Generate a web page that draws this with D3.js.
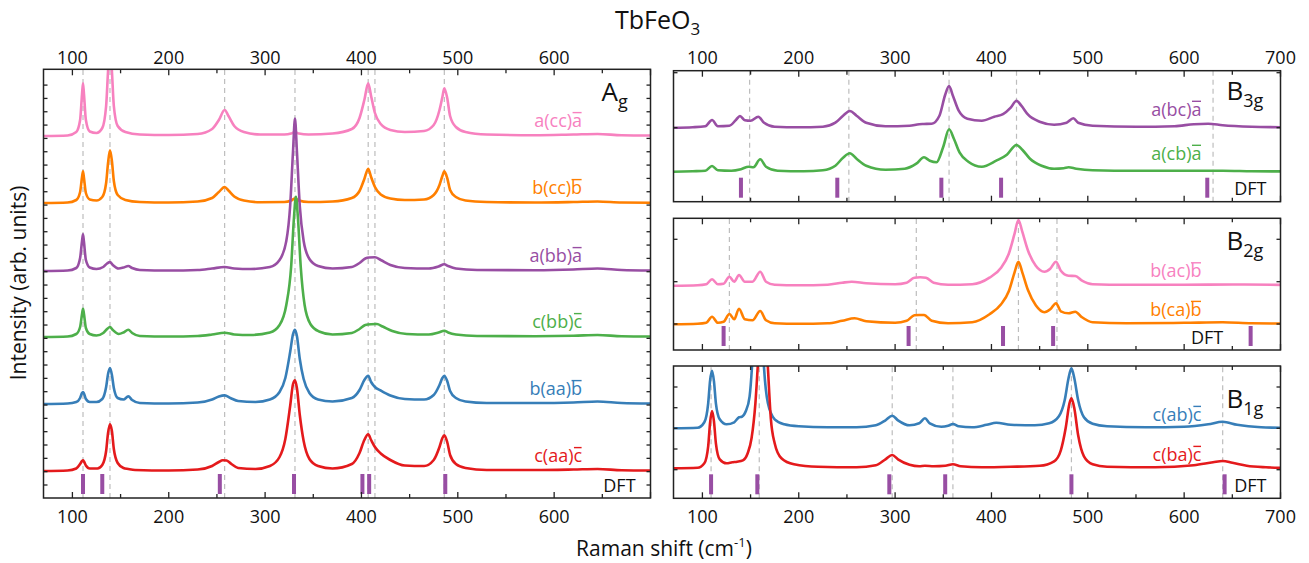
<!DOCTYPE html>
<html>
<head>
<meta charset="utf-8">
<script src="https://cdn.jsdelivr.net/npm/d3@7"></script>
<style>
body { margin: 0; background: #fff; }
svg { font-family: "Open Sans", "Noto Sans", sans-serif; }
</style>
</head>
<body>
<svg id="chart" width="1309" height="563"></svg>
<script>
// Raman spectra: [shift cm-1, intensity], intensity in 0.1 px units above the curve's own baseline
var agLabels = ['a(cc)a', 'b(cc)b', 'a(bb)a', 'c(bb)c', 'b(aa)b', 'c(aa)c']; // last letter carries an overbar
var agOffsets = [3620, 2950, 2270, 1610, 940, 270];
var agCC_a = [[70,0],[95,5],[104,40],[108,160],[110,420],[111,527],[112,420],[114,160],[118,45],[125,30],[131,80],[135,300],[137,650],[139,950],[141,650],[143,300],[147,100],[155,40],[170,15],[200,10],[230,20],[245,70],[252,160],[258,260],[262,200],[268,100],[278,40],[295,15],[320,15],[327,25],[331,40],[335,25],[345,15],[370,25],[390,70],[398,180],[403,360],[407,527],[410,400],[414,230],[420,120],[430,60],[445,40],[465,50],[475,110],[481,260],[484,390],[486,477],[489,380],[492,200],[498,90],[508,40],[530,15],[580,8],[620,15],[645,20],[670,8],[700,5]];
var agCC_b = [[70,0],[95,5],[104,30],[108,110],[110,260],[111,316],[112,250],[114,100],[118,35],[125,25],[131,60],[135,200],[137,400],[139,526],[141,420],[143,220],[147,80],[155,30],[170,10],[200,5],[230,15],[245,50],[252,110],[258,160],[262,125],[268,65],[278,25],[295,8],[320,10],[327,25],[331,45],[335,25],[345,10],[370,15],[390,50],[398,120],[403,240],[407,343],[410,260],[414,160],[420,85],[430,45],[445,30],[465,35],[475,80],[481,180],[484,270],[486,316],[489,250],[492,130],[498,60],[508,25],[530,10],[580,5],[620,10],[645,15],[670,5],[700,3]];
var agBB_a = [[70,0],[95,5],[104,30],[108,130],[110,300],[111,367],[112,290],[114,110],[118,35],[125,20],[132,40],[136,75],[139,90],[142,60],[148,25],[153,35],[158,50],[162,30],[170,10],[200,5],[230,10],[245,25],[258,40],[268,25],[285,20],[305,40],[315,110],[322,300],[326,650],[329,1200],[331,1524],[333,1200],[336,650],[340,300],[346,120],[355,50],[370,25],[390,40],[398,80],[404,125],[408,135],[414,137],[420,110],[430,60],[445,30],[470,25],[480,45],[486,67],[490,50],[498,25],[520,10],[580,8],[620,15],[645,25],[670,10],[700,5]];
var agBB_c = [[70,0],[95,5],[104,30],[108,100],[110,230],[111,283],[112,230],[114,90],[118,30],[125,15],[132,40],[136,80],[139,100],[142,70],[148,30],[153,45],[158,73],[162,40],[170,10],[200,5],[230,10],[245,25],[258,43],[268,25],[285,20],[305,45],[315,120],[322,320],[327,700],[330,1200],[332,1403],[334,1200],[337,700],[341,320],[347,130],[356,55],[370,25],[390,40],[398,80],[404,120],[410,128],[416,130],[422,105],[432,60],[447,30],[470,25],[480,45],[486,63],[490,45],[498,25],[520,10],[580,8],[620,12],[645,20],[670,8],[700,5]];
var agAA_b = [[70,0],[95,5],[104,20],[108,60],[110,110],[111,120],[112,105],[114,50],[118,20],[125,20],[131,50],[135,170],[137,300],[139,360],[141,290],[143,160],[147,60],[153,45],[158,76],[162,40],[170,10],[200,5],[230,15],[245,45],[252,75],[258,86],[264,60],[272,30],[290,20],[305,45],[315,120],[321,260],[326,520],[329,700],[331,743],[333,680],[336,450],[340,250],[346,110],[355,45],[370,25],[390,60],[398,140],[403,240],[407,283],[410,220],[414,170],[420,135],[430,85],[445,50],[465,45],[475,90],[481,190],[484,260],[486,283],[489,230],[492,130],[498,60],[508,25],[530,10],[580,10],[620,15],[645,25],[670,10],[700,5]];
var agAA_c = [[70,0],[95,5],[104,25],[108,70],[110,100],[111,107],[112,95],[114,55],[118,25],[126,25],[131,60],[135,200],[137,380],[139,467],[141,400],[143,220],[147,80],[153,30],[158,20],[165,10],[200,5],[230,15],[245,50],[252,90],[256,107],[260,105],[265,70],[272,30],[290,20],[305,50],[315,140],[321,320],[326,650],[329,870],[331,907],[333,830],[336,560],[340,300],[346,120],[355,50],[370,25],[390,70],[398,180],[403,310],[407,367],[410,310],[414,240],[420,175],[430,110],[445,55],[465,50],[475,110],[481,240],[484,330],[486,357],[489,290],[492,160],[498,70],[508,30],[530,10],[580,10],[620,15],[645,20],[670,8],[700,5]];
var agModes = [111, 139, 258, 331, 407, 414, 486];
var agDft = [111, 131, 253, 330, 401, 408, 487];

var b3gLabels = ['a(bc)a', 'a(cb)a'];
var b3gOffsets = [740, 300];
var b3gBC = [[70,0],[90,5],[103,15],[110,77],[116,15],[128,20],[135,80],[139,117],[144,75],[150,70],[158,110],[164,50],[175,10],[200,5],[225,10],[238,50],[246,120],[253,167],[260,120],[270,50],[290,15],[315,20],[325,35],[330,37],[338,40],[346,120],[352,330],[356,417],[360,320],[366,170],[375,90],[390,70],[403,110],[412,135],[420,200],[426,270],[431,220],[438,130],[450,60],[465,30],[478,50],[485,94],[490,50],[505,20],[550,10],[590,15],[610,35],[625,40],[640,25],[670,10],[700,5]];
var b3gCB = [[70,0],[90,5],[103,10],[110,57],[116,15],[130,10],[140,25],[148,50],[153,45],[160,124],[166,50],[178,10],[205,5],[225,15],[238,60],[246,140],[253,184],[260,130],[270,60],[290,20],[310,30],[322,80],[330,144],[336,110],[343,95],[350,250],[356,424],[361,330],[367,190],[376,100],[390,50],[405,110],[416,170],[426,267],[432,220],[440,130],[452,60],[465,30],[475,35],[480,44],[488,30],[505,15],[550,10],[600,10],[640,10],[670,5],[700,3]];
var b3gModes = [149, 252, 356, 426, 630];
var b3gDft = [140, 240, 348, 410, 624];

var b2gLabels = ['b(ac)b', 'b(ca)b'];
var b2gOffsets = [643, 257];
var b2gAC = [[70,0],[95,5],[104,15],[110,64],[116,15],[122,20],[128,90],[133,40],[138,107],[144,40],[152,40],[160,140],[166,40],[175,10],[200,5],[230,10],[245,30],[255,40],[270,25],[300,15],[312,30],[320,80],[326,84],[332,80],[340,30],[355,10],[380,15],[398,80],[410,180],[418,320],[424,520],[428,657],[432,540],[438,350],[446,200],[455,140],[461,170],[467,240],[472,150],[480,100],[487,97],[494,50],[505,15],[540,10],[600,10],[650,12],[700,8]];
var b2gCA = [[70,0],[95,5],[104,15],[110,76],[116,15],[122,25],[128,103],[133,50],[138,156],[144,50],[152,40],[160,133],[166,40],[175,10],[200,5],[230,10],[245,35],[258,60],[270,30],[300,15],[312,35],[320,90],[325,93],[330,93],[338,35],[355,10],[380,20],[398,100],[410,200],[418,330],[424,520],[428,626],[432,520],[438,340],[446,190],[455,120],[461,150],[467,210],[472,130],[480,110],[487,126],[494,70],[505,20],[540,10],[600,15],[640,20],[670,10],[700,8]];
var b2gModes = [128, 322, 428, 468];
var b2gDft = [122, 314, 412, 464, 669];

var b1gLabels = ['c(ab)c', 'c(ba)c'];
var b1gOffsets = [700, 300];
var b1gAB = [[70,0],[95,5],[102,60],[106,250],[108,480],[110,576],[112,470],[114,250],[118,90],[125,40],[133,60],[138,110],[141,116],[145,170],[149,320],[152,700],[155,1300],[158,1500],[161,1200],[164,600],[168,250],[175,90],[185,40],[200,20],[230,10],[260,10],[280,30],[290,80],[297,126],[303,80],[315,30],[325,50],[331,100],[336,50],[348,15],[355,25],[360,43],[366,20],[380,10],[395,35],[405,56],[420,35],[445,30],[460,50],[470,120],[476,280],[480,500],[483,600],[486,500],[490,280],[496,110],[505,45],[520,20],[560,10],[600,15],[625,40],[640,66],[655,35],[680,10],[700,5]];
var b1gBA = [[70,0],[95,5],[102,50],[106,220],[108,460],[110,573],[112,470],[114,250],[118,90],[125,50],[131,60],[136,66],[142,80],[147,150],[151,300],[155,650],[158,1100],[161,1500],[163,1650],[165,1500],[168,1000],[171,500],[175,250],[182,100],[195,40],[220,15],[260,10],[280,30],[290,90],[297,133],[303,90],[315,35],[325,20],[331,26],[340,20],[352,25],[360,40],[368,20],[390,10],[420,15],[450,25],[465,70],[472,180],[477,400],[481,650],[483,700],[486,600],[490,330],[496,120],[505,40],[520,15],[570,10],[610,30],[630,60],[640,73],[650,55],[665,25],[685,10],[700,5]];
var b1gModes = [109, 159, 297, 360, 483, 640];
var b1gDft = [109, 157, 294, 352, 483, 642];

var xMajor = [100, 200, 300, 400, 500, 600, 700];
var xMinor = [150, 250, 350, 450, 550, 650];

var pink = '#f781bf', orange = '#ff7f00', purple = '#984ea3',
    green = '#4daf4a', blue = '#377eb8', red = '#e41a1c';

var panels = [
    { id: 'ag', box: [43.5, 650.5, 69.3, 498], ymax: 4287, title: ['A', 'g'], titleDrop: 32,
      labels: agLabels, offsets: agOffsets, series: [agCC_a, agCC_b, agBB_a, agBB_c, agAA_b, agAA_c],
      colors: [pink, orange, purple, green, blue, red], modes: agModes, dft: agDft,
      yTicks: d3.range(130, 4200, 133.3), tickLabels: [100, 200, 300, 400, 500, 600],
      topLabels: true, bottomLabels: true,
      labelX: 629, labelLift: 9, dftX: 651 },
    { id: 'b3g', box: [673.5, 1280.5, 70.7, 201.7], ymax: 1310, title: ['B', '3g'], titleDrop: 29,
      labels: b3gLabels, offsets: b3gOffsets, series: [b3gBC, b3gCB],
      colors: [purple, green], modes: b3gModes, dft: b3gDft,
      yTicks: [740, 1290], tickLabels: xMajor, topLabels: true,
      labelX: 618, labelLift: 12, dftX: 652 },
    { id: 'b2g', box: [673.5, 1280.5, 218.3, 350], ymax: 1317, title: ['B', '2g'], titleDrop: 32,
      labels: b2gLabels, offsets: b2gOffsets, series: [b2gAC, b2gCA],
      colors: [pink, orange], modes: b2gModes, dft: b2gDft,
      yTicks: [260, 683, 1107], tickLabels: [],
      labelX: 618, labelLift: 8.5, dftX: 607 },
    { id: 'b1g', box: [673.5, 1280.5, 366, 498.3], ymax: 1323, title: ['B', '1g'], titleDrop: 42,
      labels: b1gLabels, offsets: b1gOffsets, series: [b1gAB, b1gBA],
      colors: [blue, red], modes: b1gModes, dft: b1gDft,
      yTicks: [286, 493, 700, 906, 1113], tickLabels: xMajor, bottomLabels: true,
      labelX: 618, labelLift: 7.5, dftX: 652 }
];

var svg = d3.select('#chart');

panels.forEach(drawPanel);

function drawPanel(p) {
    var x = d3.scaleLinear().domain([70, 700]).range([p.box[0], p.box[1]]);
    var y = d3.scaleLinear().domain([0, p.ymax]).range([p.box[3], p.box[2]]);
    var g = svg.append('g');

    g.append('clipPath').attr('id', 'clip-' + p.id)
        .append('rect')
        .attr('x', p.box[0]).attr('y', p.box[2])
        .attr('width', p.box[1] - p.box[0]).attr('height', p.box[3] - p.box[2]);

    g.selectAll('.mode')
        .data(p.modes)
        .enter().append('line')
        .attr('x1', function(d) { return x(d); })
        .attr('x2', function(d) { return x(d); })
        .attr('y1', y(0)).attr('y2', y(p.ymax))
        .attr('stroke', '#bdbdbd').attr('stroke-width', 1.2)
        .attr('stroke-dasharray', '5,4');

    var curves = g.append('g').attr('clip-path', 'url(#clip-' + p.id + ')');
    p.series.forEach(function(s, i) {
        var line = d3.line()
            .x(function(d) { return x(d[0]); })
            .y(function(d) { return y(d[1] + p.offsets[i]); })
            .curve(d3.curveMonotoneX);
        curves.append('path')
            .datum(s)
            .attr('d', line)
            .attr('fill', 'none')
            .attr('stroke', p.colors[i])
            .attr('stroke-width', 2.6)
            .attr('stroke-linejoin', 'round');
    });

    g.selectAll('.dft')
        .data(p.dft)
        .enter().append('rect')
        .attr('x', function(d) { return x(d) - 2; })
        .attr('y', y(240))
        .attr('width', 4)
        .attr('height', y(40) - y(240))
        .attr('fill', purple);

    g.append('text')
        .attr('x', x(p.dftX)).attr('y', y(65))
        .attr('font-size', 18).attr('fill', '#111')
        .text('DFT');

    // series labels with the overbar on the last letter
    p.labels.forEach(function(lab, i) {
        var t = g.append('text')
            .attr('x', x(p.labelX))
            .attr('y', y(p.offsets[i]) - p.labelLift)
            .attr('text-anchor', 'end')
            .attr('font-size', 18)
            .attr('fill', p.colors[i])
            .text(lab);
        var box = t.node().getExtentOfChar(lab.length - 1);
        var by = y(p.offsets[i]) - p.labelLift - 18 * 0.8;
        g.append('line')
            .attr('x1', box.x + 0.5).attr('x2', box.x + box.width - 0.5)
            .attr('y1', by).attr('y2', by)
            .attr('stroke', p.colors[i]).attr('stroke-width', 1.4);
    });

    var tt = g.append('text')
        .attr('x', p.box[1] - (p.id == 'ag' ? 49 : 54))
        .attr('y', p.box[2] + p.titleDrop)
        .attr('font-size', 26).attr('fill', '#111');
    tt.append('tspan').text(p.title[0]);
    tt.append('tspan').attr('font-size', 18).attr('dy', 7).text(p.title[1]);

    // frame and ticks
    g.append('rect')
        .attr('x', p.box[0]).attr('y', p.box[2])
        .attr('width', p.box[1] - p.box[0]).attr('height', p.box[3] - p.box[2])
        .attr('fill', 'none').attr('stroke', '#222').attr('stroke-width', 1.5);

    var ticks = g.append('g').attr('stroke', '#222').attr('stroke-width', 1.3);
    [[xMajor, 6], [xMinor, 4]].forEach(function(set) {
        set[0].forEach(function(v) {
            ticks.append('line').attr('x1', x(v)).attr('x2', x(v))
                .attr('y1', p.box[2]).attr('y2', p.box[2] + set[1]);
            ticks.append('line').attr('x1', x(v)).attr('x2', x(v))
                .attr('y1', p.box[3]).attr('y2', p.box[3] - set[1]);
        });
    });
    p.yTicks.forEach(function(v) {
        ticks.append('line').attr('x1', p.box[0]).attr('x2', p.box[0] + 4)
            .attr('y1', y(v)).attr('y2', y(v));
        ticks.append('line').attr('x1', p.box[1]).attr('x2', p.box[1] - 4)
            .attr('y1', y(v)).attr('y2', y(v));
    });

    if (p.topLabels) {
        g.selectAll('.tl-top')
            .data(p.tickLabels)
            .enter().append('text')
            .attr('x', function(d) { return x(d); })
            .attr('y', 63.5)
            .attr('text-anchor', 'middle')
            .attr('font-size', 18).attr('fill', '#111')
            .text(function(d) { return d; });
    }
    if (p.bottomLabels) {
        g.selectAll('.tl-bot')
            .data(p.tickLabels)
            .enter().append('text')
            .attr('x', function(d) { return x(d); })
            .attr('y', 523)
            .attr('text-anchor', 'middle')
            .attr('font-size', 18).attr('fill', '#111')
            .text(function(d) { return d; });
    }
}

var title = svg.append('text')
    .attr('x', 615).attr('y', 28.5)
    .attr('font-size', 25).attr('fill', '#111');
title.append('tspan').text('TbFeO');
title.append('tspan').attr('font-size', 17).attr('dy', 6).text('3');

var xt = svg.append('text')
    .attr('x', 664).attr('y', 556)
    .attr('text-anchor', 'middle')
    .attr('font-size', 21).attr('fill', '#111');
xt.append('tspan').text('Raman shift (cm');
xt.append('tspan').attr('font-size', 13).attr('dy', -9).text('-1');
xt.append('tspan').attr('dy', 9).text(')');

svg.append('text')
    .attr('transform', 'translate(26,283) rotate(-90)')
    .attr('text-anchor', 'middle')
    .attr('font-size', 21).attr('fill', '#111')
    .text('Intensity (arb. units)');
</script>
</body>
</html>
